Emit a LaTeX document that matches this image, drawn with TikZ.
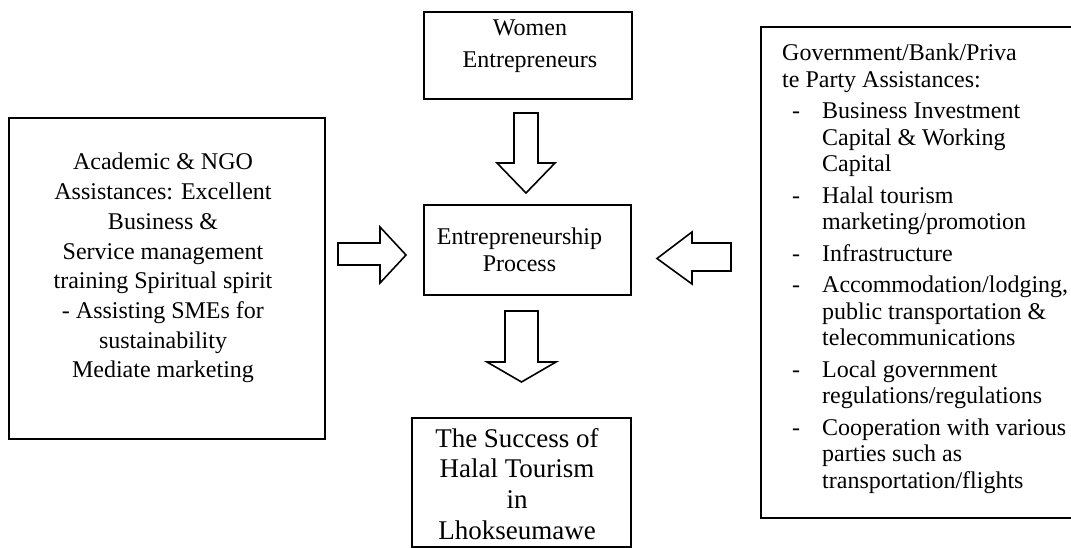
\documentclass[tikz,border=0pt]{standalone}
\usepackage{fontspec}
\setmainfont{Liberation Serif}
\newcommand{\dashitem}{\makebox[40pt][l]{\hspace{10pt}-}}
\newcommand{\contitem}{\hspace*{40pt}}
\begin{document}
\begin{tikzpicture}[x=1pt,y=-1pt,
  boxstyle/.style={draw=black, line width=2pt, rectangle, inner sep=0pt},
  txt/.style={inner sep=0pt, anchor=base},
  blockarrow/.style={draw=black, line width=1.6pt, fill=white, line join=miter}]
\useasboundingbox (0,0) rectangle (1071,548);
\clip (0,0) rectangle (1071,548);
\fill[white] (0,0) rectangle (1071,548);

% boxes
\node[boxstyle, minimum width=316pt, minimum height=321pt] (left) at (167,278.5) {};
\node[boxstyle, minimum width=208pt, minimum height=87pt] (women) at (528,55.5) {};
\node[boxstyle, minimum width=207pt, minimum height=90pt] (proc) at (527.5,250) {};
\node[boxstyle, minimum width=219pt, minimum height=129pt] (succ) at (521.5,482.5) {};
\node[boxstyle, minimum width=319pt, minimum height=491pt] (right) at (920.5,272.5) {};

% texts
\node[txt] (lefttext) at (163,170) {\parbox[t]{310pt}{\centering\fontsize{24}{29.7}\selectfont
Academic \& NGO\\
Assistances: Excellent\\
Business \&\\
Service management\\
training Spiritual spirit\\
- Assisting SMEs for\\
sustainability\\
Mediate marketing}};

\node[txt] (womentext) at (530,36) {\parbox[t]{200pt}{\centering\fontsize{24}{32}\selectfont
Women\\
Entrepreneurs}};

\node[txt] (proctext) at (519.5,244) {\parbox[t]{200pt}{\centering\fontsize{24}{28}\selectfont
Entrepreneurship\\
Process}};

\node[txt] (succtext) at (517,447) {\parbox[t]{215pt}{\centering\fontsize{27}{30.7}\selectfont
The Success of\\
Halal Tourism\\
in\\
Lhokseumawe}};

\node[txt, anchor=base west] (righttext) at (782,61) {\parbox[t]{285pt}{\raggedright\fontsize{24}{26.5}\selectfont
Government/Bank/Priva\\
te Party Assistances:\\[5pt]
\dashitem Business Investment\\
\contitem Capital \& Working\\
\contitem Capital\\[5pt]
\dashitem Halal tourism\\
\contitem marketing/promotion\\[5pt]
\dashitem Infrastructure\\[5pt]
\dashitem Accommodation/lodging,\\
\contitem public transportation \&\\
\contitem telecommunications\\[5pt]
\dashitem Local government\\
\contitem regulations/regulations\\[5pt]
\dashitem Cooperation with various\\
\contitem parties such as\\
\contitem transportation/flights}};

% block arrows
% women -> process
\draw[blockarrow] (514,113) -- (538,113) -- (538,163) -- (555,163) -- (526,193) -- (497,163) -- (514,163) -- cycle;
% process -> success
\draw[blockarrow] (505,311) -- (538,311) -- (538,362) -- (556,362) -- (521.5,382) -- (487,362) -- (505,362) -- cycle;
% left -> process
\draw[blockarrow] (338,243) -- (380,243) -- (380,227) -- (406,255) -- (380,283) -- (380,265) -- (338,265) -- cycle;
% right -> process
\draw[blockarrow] (731,243) -- (692,243) -- (692,232) -- (657,258.5) -- (692,284) -- (692,271) -- (731,271) -- cycle;
\end{tikzpicture}
\end{document}
